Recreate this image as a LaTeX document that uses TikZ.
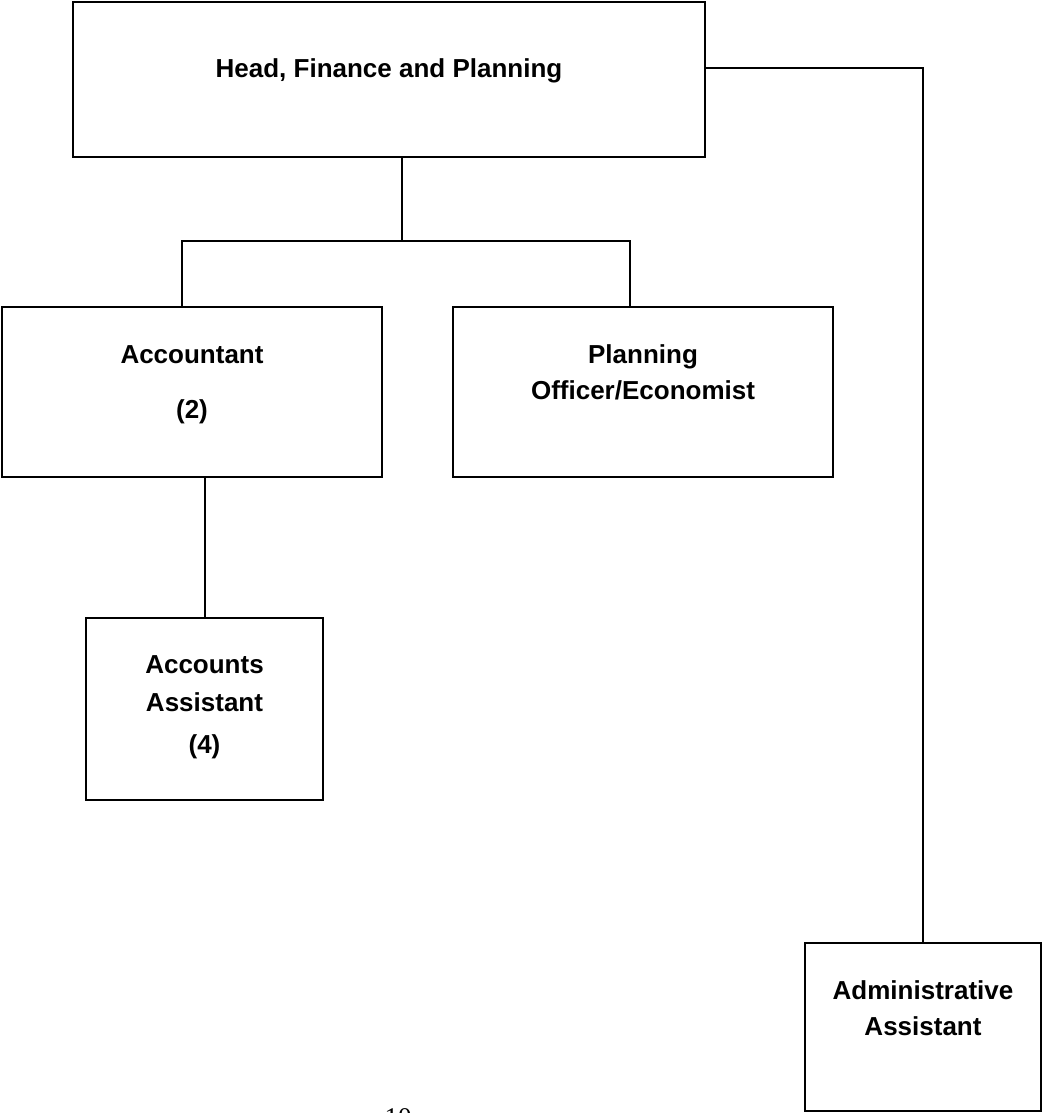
\documentclass[tikz,border=0pt]{standalone}
\usepackage{fontspec}
\setmainfont{Liberation Sans}
\newfontfamily\pagefont{Liberation Serif}
\begin{document}
\begin{tikzpicture}[x=1pt,y=-1pt,line join=miter,
  box/.style={draw,line width=2.8pt,rectangle,inner sep=0pt},
  txt/.style={align=center,anchor=base,font=\bfseries\fontsize{26}{36}\selectfont},
  wire/.style={line width=2pt}]
\useasboundingbox (0,0) rectangle (1044,1113);
% boxes
\node[box,minimum width=632pt,minimum height=155pt] (head) at (389,79.5) {};
\node[box,minimum width=380pt,minimum height=170pt] (acct) at (192,392) {};
\node[box,minimum width=380pt,minimum height=170pt] (plan) at (643,392) {};
\node[box,minimum width=237pt,minimum height=182pt] (asst) at (204.5,709) {};
\node[box,minimum width=236pt,minimum height=168pt] (admin) at (923,1027) {};
% texts (base = last line)
\node[txt] (headT) at (389,78) {Head, Finance and Planning};
\node[txt] (acctT) at (192,418) {Accountant\\[19pt](2)};
\node[txt] (planT) at (643,399) {Planning\\Officer/Economist};
\node[txt] (asstT) at (204.5,753) {Accounts\\[2pt]Assistant\\[6pt](4)};
\node[txt] (adminT) at (923,1035) {Administrative\\Assistant};
\node[anchor=base,font=\pagefont\fontsize{27}{30}\selectfont] (pg) at (398,1126) {10};
% lines
\coordinate (hub) at (402,241);
\draw[wire] (hub |- head.south)--(hub);
\draw[wire] ([xshift=-10pt]acct.north) |- (hub) -| ([xshift=-13pt]plan.north);
\draw[wire] (asst.north |- acct.south)--(asst.north);
\draw[wire] ([yshift=11.5pt]head.east) -| (admin.north);
\end{tikzpicture}
\end{document}
